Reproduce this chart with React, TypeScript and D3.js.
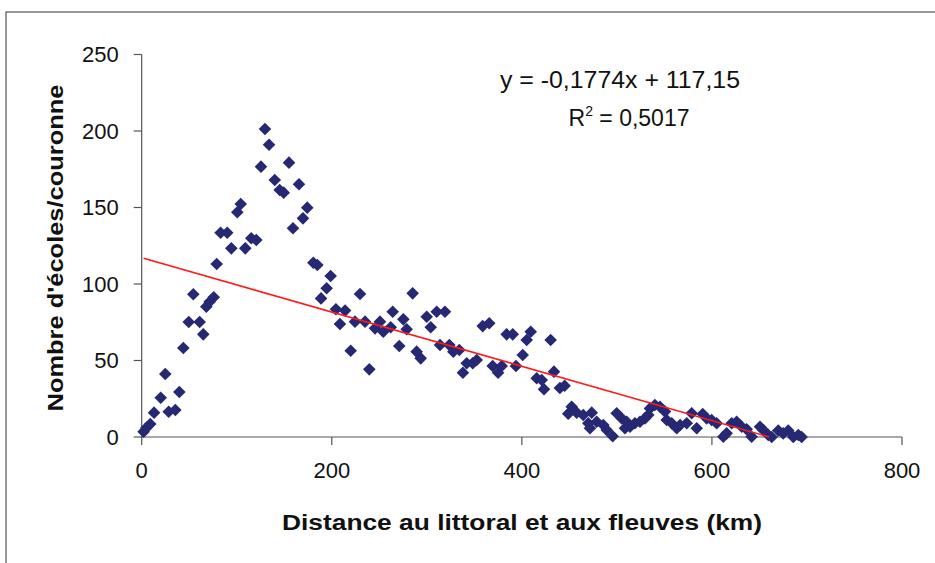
import React from "react";
import * as d3 from "d3";

const distances = [
  2, 5, 9, 13, 20, 24.8, 28.4, 35.4, 39.6, 43.8, 49.5, 54.3, 61, 64.8, 68, 71.5, 75.8, 78.9, 83, 90,
  94.3, 100.6, 104.2, 109, 115.3, 120.6, 125.5, 129.7, 134, 140, 145.2, 149.4, 155, 159.2, 165.5, 169.7,
  174.2, 180.6, 184.8, 188.7, 194.6, 198.8, 204.4, 208.6, 214, 219.9, 224.4, 229.7, 235, 239.5, 245.5,
  250.7, 254.2, 262, 264.1, 271, 275.3, 278.8, 285.1, 289.3, 293.6, 299.9, 304.1, 310.4, 313.9, 319.1,
  323.7, 327.9, 334.2, 338, 342, 348.3, 352.5, 358.8, 365.7, 369.3, 375, 378.8, 384, 390.4, 393.8,
  400.9, 405.1, 409.3, 415.6, 420.9, 423.3, 430.3, 433.8, 440, 445, 448.8, 452.4, 457.7, 464.6, 469.9,
  471.7, 473.5, 478.7, 485.7, 489.3, 495.6, 499.8, 505, 508.5, 510.3, 513.8, 519, 524.3, 529.6, 533,
  534.8, 540, 545.3, 550.6, 552.4, 557.7, 563, 566.5, 573.5, 578.7, 584, 590.3, 594.5, 599.7, 605, 612,
  615.5, 620.8, 626, 631.3, 636.6, 641.8, 650.6, 654, 659.3, 662.9, 669.8, 675, 680.3, 685.6, 690.9, 694.4,
];
const schools = [
  3.5, 6, 8.5, 15.9, 25.7, 41.2, 16.5, 17.6, 29.4, 58.2, 75.2, 93.3, 75.2, 67.1, 85.2, 88.4, 91.3, 113.1, 133.5, 133.5,
  123.3, 146.9, 152.3, 123.3, 129.9, 128.8, 176.7, 201.3, 191, 168, 161.4, 159.7, 179.3, 136.4, 165.2, 142.9,
  149.9, 113.9, 112.4, 90.6, 97.2, 105.2, 83.5, 73.9, 82.6, 56.4, 75.4, 93.5, 75.4, 44.2, 71,
  75.4, 68.8, 71.7, 81.9, 59.5, 76.9, 70.4, 93.9, 55.8, 51.4, 78.6, 71.7, 81.9, 60.1, 81.9,
  60.1, 55.8, 56.9, 42, 48.2, 48.2, 50.3, 72.5, 74.3, 46.4, 42, 46.4, 67.1, 67.1, 46.4,
  53.6, 63.4, 68.8, 38.4, 37.3, 31.2, 63.4, 42.7, 32, 33.5, 15.2, 19.8, 15.9, 14.4, 9,
  5.7, 15.9, 10, 7.8, 4.6, 0.5, 15.5, 12.2, 5.7, 10, 6.7, 9, 10, 12.2, 14.4,
  18.7, 20.9, 19.8, 16.6, 11.1, 9, 5.7, 7.8, 9, 15.5, 5.7, 15, 12.2, 11.1, 9, 0.2,
  2.4, 9, 10, 6.7, 5, 0.2, 6.7, 4.6, 1.3, 0, 4.2, 2.4, 4.2, 0, 1.3, 0,
];
const xTicks = [0, 200, 400, 600, 800];
const yTicks = [0, 50, 100, 150, 200, 250];
const slope = -0.1774;
const intercept = 117.15;
const equationText = "y = -0,1774x + 117,15";
const r2Value = "0,5017";
const xTitle = "Distance au littoral et aux fleuves (km)";
const yTitle = "Nombre d'écoles/couronne";

export default function App() {
  const x = d3.scaleLinear().domain([0, 800]).range([141.7, 902]);
  const y = d3.scaleLinear().domain([0, 250]).range([437, 54.5]);
  const font = "'Liberation Sans', Arial, sans-serif";
  const axisColor = "#555";
  const markColor = "#262873";

  const x0 = d3.min(distances) as number;
  const x1 = Math.min(d3.max(distances) as number, -intercept / slope);
  const trend = d3.line<number>().x((d) => x(d)).y((d) => y(slope * d + intercept))([x0, x1]) || "";

  const diamond = (cx: number, cy: number, r: number) =>
    `M${cx},${cy - r}L${cx + r},${cy}L${cx},${cy + r}L${cx - r},${cy}Z`;

  return (
    <svg
      width={935}
      height={563}
      style={{ position: "absolute", left: 0, top: 0, background: "#fff" }}
    >
      <rect x={6} y={12} width={1000} height={600} fill="#fff" stroke="#333" strokeWidth={1} />
      <line x1={x(0)} x2={x(0)} y1={y(250)} y2={y(0)} stroke={axisColor} strokeWidth={1.2} />
      <line x1={x(0)} x2={x(800)} y1={y(0)} y2={y(0)} stroke={axisColor} strokeWidth={1.2} />
      {yTicks.map((t) => (
        <g key={"y" + t}>
          <line x1={x(0) - 8} x2={x(0)} y1={y(t)} y2={y(t)} stroke={axisColor} strokeWidth={1.2} />
          <text x={x(0) - 23} y={y(t)} dy="0.36em" textAnchor="end" fontFamily={font} fontSize={22} fill="#111">
            {t}
          </text>
        </g>
      ))}
      {xTicks.map((t) => (
        <g key={"x" + t}>
          <line x1={x(t)} x2={x(t)} y1={y(0)} y2={y(0) + 8} stroke={axisColor} strokeWidth={1.2} />
          <text x={x(t)} y={478} textAnchor="middle" fontFamily={font} fontSize={22} fill="#111">
            {t}
          </text>
        </g>
      ))}
      {distances.map((d, i) => (
        <path key={i} d={diamond(x(d), y(schools[i]), 6.3)} fill={markColor} />
      ))}
      <path d={trend} stroke="#ff1a1a" strokeWidth={1.6} fill="none" />
      <text
        x={620}
        y={88}
        textAnchor="middle"
        fontFamily={font}
        fontSize={23}
        fill="#111"
        textLength={240}
        lengthAdjust="spacingAndGlyphs"
      >
        {equationText}
      </text>
      <text x={629} y={126} textAnchor="middle" fontFamily={font} fontSize={23} fill="#111">
        R<tspan dy={-10} fontSize={14}>2</tspan>
        <tspan dy={10}> = {r2Value}</tspan>
      </text>
      <text
        x={522}
        y={530}
        textAnchor="middle"
        fontFamily={font}
        fontWeight="bold"
        fontSize={22}
        fill="#111"
        textLength={480}
        lengthAdjust="spacingAndGlyphs"
      >
        {xTitle}
      </text>
      <text
        transform="translate(63,248) rotate(-90)"
        textAnchor="middle"
        fontFamily={font}
        fontWeight="bold"
        fontSize={22}
        fill="#111"
        textLength={327}
        lengthAdjust="spacingAndGlyphs"
      >
        {yTitle}
      </text>
    </svg>
  );
}
